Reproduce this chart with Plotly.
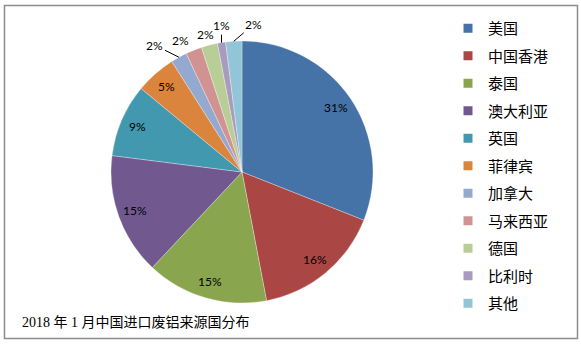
import math
import plotly.graph_objects as go

labels = ["美国", "中国香港", "泰国", "澳大利亚", "英国", "菲律宾", "加拿大", "马来西亚", "德国", "比利时", "其他"]
values = [31, 16, 15, 15, 9, 5, 2, 2, 2, 1, 2]
colors = ["#4572A7", "#AA4643", "#89A54E", "#71588F", "#4198AF", "#DB843D",
          "#93A9CF", "#D19392", "#B9CD96", "#A99BBD", "#92C5D7"]
title_text = "2018 年 1 月中国进口废铝来源国分布"

W, H = 581, 344
cx, cy, r = 242, 172, 131

# label placement style for outside (small) slices: pixel offsets, leader line or not
outside_style = {
    6: (-24, -12, True),
    7: (-13, -10, False),
    8: (-4, -11, False),
    9: (0, -17, True),
    10: (20, -17, True),
}

fig = go.Figure()
fig.add_trace(go.Pie(
    labels=labels, values=values, sort=False, direction="clockwise", rotation=0,
    marker=dict(colors=colors, line=dict(color="rgba(255,255,255,0.6)", width=0.5)),
    textinfo="none",
    domain=dict(x=[(cx - r) / W, (cx + r) / W], y=[(H - cy - r) / H, (H - cy + r) / H]),
    showlegend=False, hoverinfo="label+percent",
))

for i, (lab, col) in enumerate(zip(labels, colors)):
    fig.add_trace(go.Scatter(
        x=[None], y=[None], mode="markers", name=lab, legendgroup=f"g{i}",
        marker=dict(symbol="square", size=9, color=col), showlegend=True,
    ))

# data labels computed from the values (mid-angle of each slice)
annotations = []
total = sum(values)
cum = 0
lab_font = dict(family="Lato, Liberation Sans, sans-serif", size=12, color="#000000")
for i, v in enumerate(values):
    mid = (cum + v / 2) / total
    cum += v
    ang = 2 * math.pi * mid
    s, c = math.sin(ang), math.cos(ang)
    txt = f"{round(v / total * 100)}%"
    if i in outside_style:
        dx, dy, arrow = outside_style[i]
        px, py = cx + r * s, cy - r * c
        if arrow:
            annotations.append(dict(text=txt, xref="paper", yref="paper",
                                    x=px / W, y=1 - py / H, ax=dx, ay=dy,
                                    showarrow=True, arrowhead=0, arrowwidth=1,
                                    arrowcolor="#000000", standoff=0, font=lab_font))
        else:
            annotations.append(dict(text=txt, xref="paper", yref="paper",
                                    x=(px + dx) / W, y=1 - (py + dy) / H,
                                    xanchor="center", yanchor="middle",
                                    showarrow=False, font=lab_font))
    else:
        d = 0.87 * r
        px, py = cx + d * s, cy - d * c
        annotations.append(dict(text=txt, xref="paper", yref="paper",
                                x=px / W, y=1 - py / H, xanchor="center", yanchor="middle",
                                showarrow=False, font=lab_font))

annotations.append(dict(text=title_text, xref="paper", yref="paper",
                        x=20 / W, y=1 - 322 / H, xanchor="left", yanchor="middle",
                        showarrow=False,
                        font=dict(family="Liberation Serif, Noto Sans CJK SC", size=14, color="#000000")))

fig.update_layout(
    width=W, height=H, margin=dict(l=0, r=0, t=0, b=0, autoexpand=False),
    paper_bgcolor="white", plot_bgcolor="white",
    xaxis=dict(visible=False), yaxis=dict(visible=False),
    legend=dict(x=448 / W, y=1 - 12 / H, xanchor="left", yanchor="top",
                font=dict(family="Noto Sans CJK SC", size=15, color="#000000"),
                tracegroupgap=5, itemwidth=30, bgcolor="rgba(0,0,0,0)"),
    shapes=[dict(type="rect", xref="paper", yref="paper",
                 x0=4.5 / W, x1=577.5 / W, y0=1 - 338.5 / H, y1=1 - 5.5 / H,
                 line=dict(color="#8C8C8C", width=1.5))],
    annotations=annotations,
)

fig.write_html("out.html")
